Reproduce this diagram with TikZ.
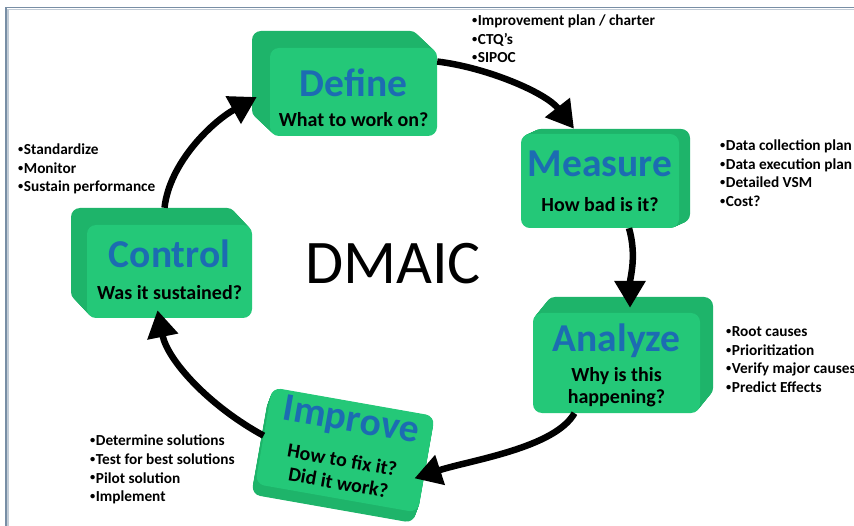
\documentclass[tikz,border=0pt]{standalone}
\usepackage{fontspec}
\setmainfont{Carlito}
\usetikzlibrary{arrows.meta,calc}

\definecolor{facegreen}{RGB}{36,200,120}
\definecolor{sidegreen}{RGB}{30,180,106}
\definecolor{titleblue}{RGB}{28,108,178}
\definecolor{framegray}{RGB}{120,142,165}

% small list bullet
\newcommand\notebullet{\raisebox{0.14em}{\scalebox{0.68}{•}}\kern0.5pt}

\tikzset{
  face/.style={fill=facegreen, rounded corners=9pt, inner sep=0pt},
  side/.style={fill=sidegreen, rounded corners=9pt},
  stagetitle/.style={anchor=base, inner sep=0pt, text=titleblue,
    font=\bfseries\fontsize{39.5}{44}\selectfont},
  stagesub/.style={anchor=base, inner sep=0pt,
    font=\bfseries\fontsize{20}{21}\selectfont},
  notes/.style={anchor=base west, inner sep=0pt,
    font=\bfseries\fontsize{15.3}{18.5}\selectfont},
  flow/.style={line width=6.5pt, -{Triangle[length=27pt,width=30pt]}},
}

\begin{document}
\begin{tikzpicture}[x=1pt,y=-1pt]
\useasboundingbox (0,0) rectangle (854,526);
\clip (0,0) rectangle (854,526);
\fill[white] (0,0) rectangle (854,526);

% window frame
\draw[framegray!45, line width=1.5pt] (8,540) -- (8,9.5) -- (870,9.5);
\draw[framegray, line width=1.6pt] (6,540) -- (6,7.5) -- (870,7.5);

% Define
\begin{scope}[shift={(353.5,92)}]
  \foreach \i in {1,...,20}
    \fill[side, shift={({-18*\i/20},{-17*\i/20})}] (-83.5,-44) rectangle (83.5,44);
  \node[face, minimum width=167pt, minimum height=88pt] (define) at (0,0) {};
  \node[stagetitle] (define-title) at (0,5) {Define};
  \node[stagesub] (define-sub) at (0,35) {What to work on?};
\end{scope}

% Measure
\begin{scope}[shift={(600,181)}]
  \foreach \i in {1,...,20}
    \fill[side, shift={({11*\i/20},{-5*\i/20})}] (-79,-47) rectangle (79,47);
  \node[face, minimum width=158pt, minimum height=94pt] (measure) at (0,0) {};
  \node[stagetitle] (measure-title) at (0,-4) {Measure};
  \node[stagesub] (measure-sub) at (0,31) {How bad is it?};
\end{scope}

% Analyze
\begin{scope}[shift={(616.5,363)}]
  \foreach \i in {1,...,20}
    \fill[side, shift={({13*\i/20},{-16*\i/20})}] (-83.5,-50) rectangle (83.5,50);
  \node[face, minimum width=167pt, minimum height=100pt] (analyze) at (0,0) {};
  \node[stagetitle] (analyze-title) at (0,-11) {Analyze};
  \node[stagesub] (analyze-sub) at (0,19)
    {\begin{tabular}[t]{@{}c@{}}Why is this\\happening?\end{tabular}};
\end{scope}

% Improve (tilted)
\begin{scope}[shift={(345,450)}, rotate=-10]
  \foreach \i in {1,...,20}
    \fill[side, shift={({-2*\i/20},{11*\i/20})}] (-82.5,-49) rectangle (82.5,49);
  \node[face, transform shape, minimum width=165pt, minimum height=98pt] (improve) at (0,0) {};
  \node[stagetitle, transform shape] (improve-title) at (1,-19) {Improve};
  \node[stagesub, transform shape, font=\bfseries\fontsize{20}{23}\selectfont] (improve-sub) at (-1,17)
    {\begin{tabular}[t]{@{}c@{}}How to fix it?\\Did it work?\end{tabular}};
\end{scope}

% Control
\begin{scope}[shift={(169.5,271.5)}]
  \foreach \i in {1,...,20}
    \fill[side, shift={({-16*\i/20},{-17*\i/20})}] (-82.5,-46.5) rectangle (82.5,46.5);
  \node[face, minimum width=165pt, minimum height=93pt] (control) at (0,0) {};
  \node[stagetitle] (control-title) at (0,-3.5) {Control};
  \node[stagesub] (control-sub) at (0,28.5) {Was it sustained?};
\end{scope}

% centre label
\node[font=\fontsize{62}{62}\selectfont, inner sep=0pt] (dmaic) at (393,263.5) {DMAIC};

% cycle arrows
\draw[flow] (define.20) .. controls +(50,6) and +(-28,-36) .. ($(measure.north)+(-26,-5)$);
\draw[flow] ($(measure.south)+(29,0)$) .. controls +(8,28) and +(0,-30) .. ($(analyze.north)+(13.5,-5)$);
\draw[flow] ($(analyze.south)+(-42,0)$) .. controls +(-20,35) and +(55,-18) .. ($(improve.east)+(-12,14)$);
\draw[flow] (improve.west) .. controls +(-55,-30) and +(10,50) .. ($(control.south)+(-12,-8)$);
\draw[flow] ($(control.north)+(-5,-17)$) .. controls +(5,-45) and +(-45,25) .. ($(define.west)+(-13,5)$);

% activity lists
\node[notes] (define-notes) at (472,26)
  {\begin{tabular}[t]{@{}l@{}}\notebullet Improvement plan / charter\\\notebullet CTQ’s\\\notebullet SIPOC\end{tabular}};
\node[notes] (measure-notes) at (720,151)
  {\begin{tabular}[t]{@{}l@{}}\notebullet Data collection plan\\\notebullet Data execution plan\\\notebullet Detailed VSM\\\notebullet Cost?\end{tabular}};
\node[notes] (analyze-notes) at (726,337)
  {\begin{tabular}[t]{@{}l@{}}\notebullet Root causes\\\notebullet Prioritization\\\notebullet Verify major causes\\\notebullet Predict Effects\end{tabular}};
\node[notes] (improve-notes) at (90,446)
  {\begin{tabular}[t]{@{}l@{}}\notebullet Determine solutions\\\notebullet Test for best solutions\\\notebullet Pilot solution\\\notebullet Implement\end{tabular}};
\node[notes] (control-notes) at (18,155)
  {\begin{tabular}[t]{@{}l@{}}\notebullet Standardize\\\notebullet Monitor\\\notebullet Sustain performance\end{tabular}};
\end{tikzpicture}
\end{document}
